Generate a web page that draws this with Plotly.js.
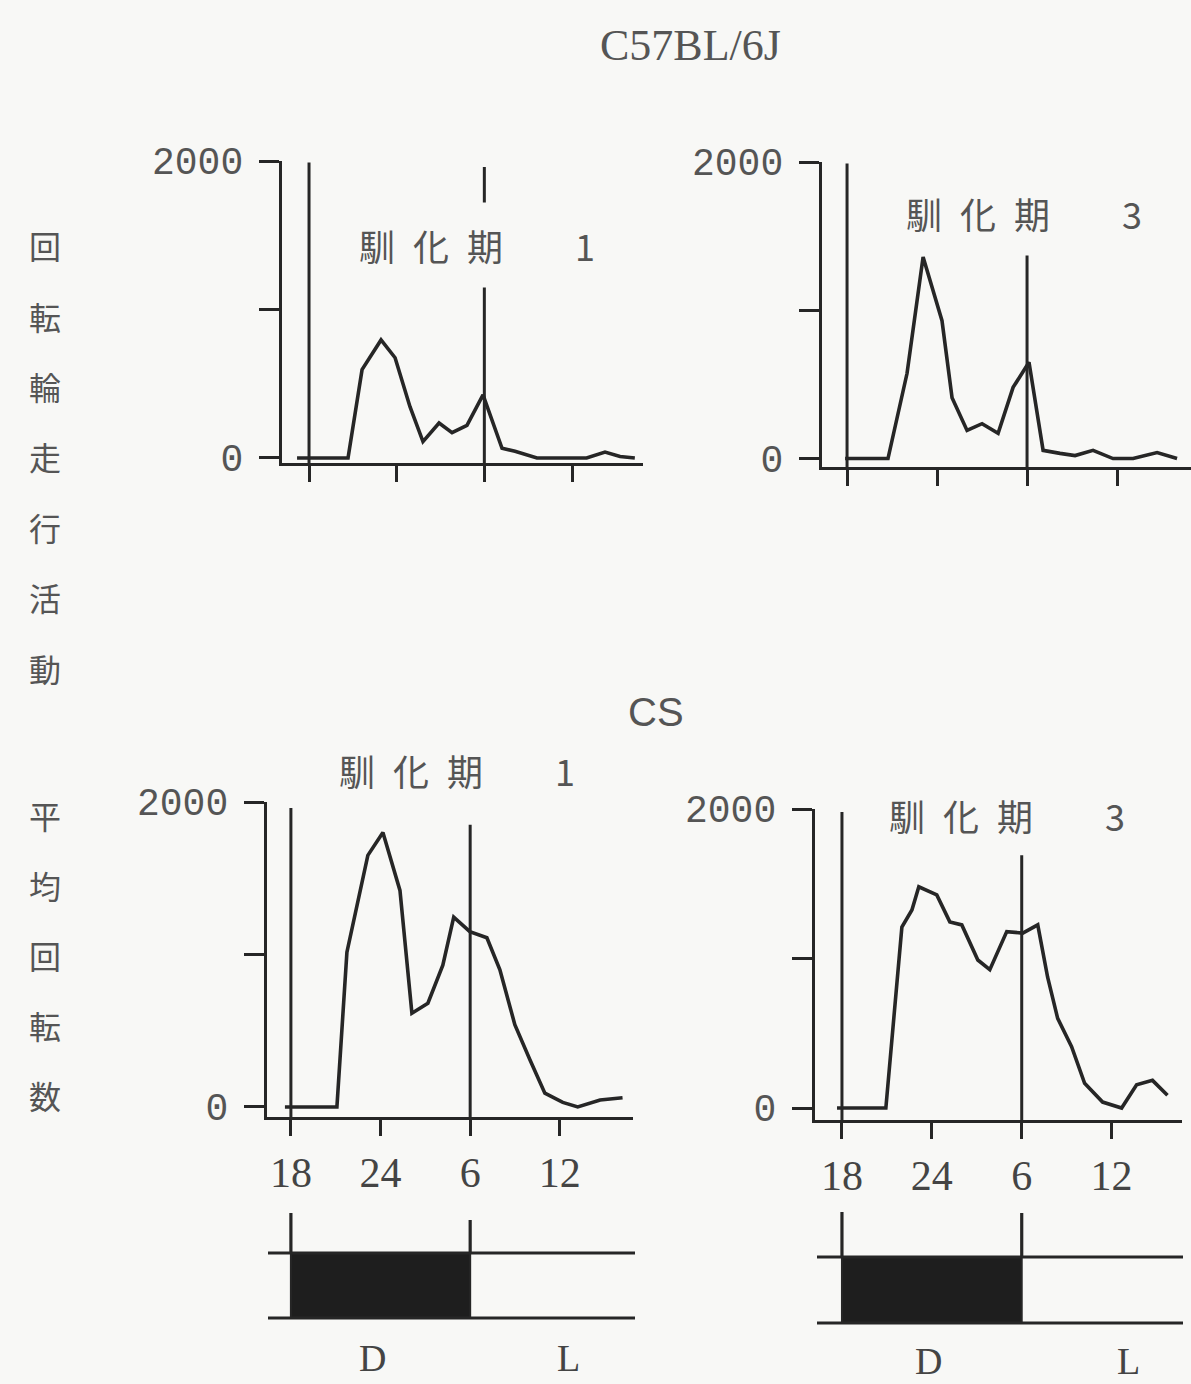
<!DOCTYPE html>
<html><head><meta charset="utf-8">
<script src="https://cdn.plot.ly/plotly-3.0.1.min.js"></script>
<style>html,body{margin:0;padding:0;background:#f8f8f6}</style>
</head><body><div id="chart" style="width:1191px;height:1384px"></div>
<script>
// ---- data (x = hours after 18:00) ----
const tickHours = [0, 6, 12, 18];
const tickLabels = ['18', '24', '6', '12'];
const yTicks = [0, 1000, 2000];
const yTickLabels = ['0', '', '2000'];

const c57Day1Hours  = [-0.82, 2.67, 3.63, 4.93, 5.89, 6.91, 7.8, 8.9, 9.79, 10.81, 11.91, 13.21, 14.1, 15.6, 19.0, 20.26, 21.29, 22.3];
const c57Day1Counts = [0, 0, 595, 795, 675, 345, 110, 235, 170, 220, 425, 65, 45, 0, 0, 40, 10, 0];

const c57Day3Hours  = [-0.13, 2.73, 4.0, 5.07, 6.33, 7.0, 8.0, 9.0, 10.07, 11.07, 12.13, 13.07, 14.2, 15.2, 16.4, 17.73, 19.07, 20.67, 22.0];
const c57Day3Counts = [0, 0, 575, 1360, 930, 410, 190, 235, 170, 480, 650, 55, 35, 20, 55, 0, 0, 40, 0];

const csDay1Hours  = [-0.4, 3.08, 3.75, 4.48, 5.15, 6.16, 7.3, 8.1, 9.17, 10.17, 10.9, 11.98, 13.12, 13.99, 14.99, 16.0, 17.0, 18.2, 19.2, 20.7, 22.2];
const csDay1Counts = [0, 0, 1015, 1340, 1650, 1800, 1420, 615, 680, 930, 1245, 1150, 1110, 900, 540, 310, 90, 30, 0, 45, 60];

const csDay3Hours  = [-0.33, 2.93, 4.0, 4.67, 5.13, 6.33, 7.2, 8.0, 9.07, 9.87, 11.0, 12.07, 13.07, 13.73, 14.4, 15.33, 16.2, 17.4, 18.67, 19.67, 20.73, 21.73];
const csDay3Counts = [0, 0, 1210, 1325, 1480, 1425, 1245, 1225, 990, 925, 1180, 1170, 1225, 875, 600, 410, 165, 40, 0, 155, 185, 85];

const darkStart = 0, darkEnd = 12;
const strainTitles = ['C57BL/6J', 'CS'];
const periodWord = '馴\u2002化\u2002期';
const periodNumbers = ['1', '3', '1', '3'];
const yLabelPart1 = '回転輪走行活動';
const yLabelPart2 = '平均回転数';
const dLabel = 'D', lLabel = 'L';

// ---- layout helpers ----
const W = 1191, H = 1384;
const px = v => v / W;
const py = v => 1 - v / H;
const BG = '#f8f8f6';
const INK = '#262626';
const TXT = '#555555';
const CJK = '"Noto Sans CJK JP", "Noto Sans CJK SC", sans-serif';
const SERIF = '"Liberation Serif", "DejaVu Serif", serif';
const MONO = '"Liberation Mono", "DejaVu Sans Mono", monospace';

const panels = [
  {h: c57Day1Hours, v: c57Day1Counts, xd: [282, 643], yd: [161, 463], xr: [-1.85, 22.86], yr: [-34, 2000], lab: false, top18: 1990, top6: 1960},
  {h: c57Day3Hours, v: c57Day3Counts, xd: [822, 1191], yd: [162, 467], xr: [-1.67, 22.93], yr: [-57, 2000], lab: false, top18: 1990, top6: 1940},
  {h: csDay1Hours, v: csDay1Counts, xd: [267, 633], yd: [802, 1117], xr: [-1.6, 22.9], yr: [-66, 2000], lab: true, top18: 1960, top6: 1850},
  {h: csDay3Hours, v: csDay3Counts, xd: [815, 1182], yd: [809, 1120], xr: [-1.8, 22.7], yr: [-80, 2000], lab: true, top18: 1980, top6: 1690}
];

const traces = [];
const layout = {
  width: W, height: H,
  margin: {l: 0, r: 0, t: 0, b: 0},
  paper_bgcolor: BG, plot_bgcolor: 'rgba(0,0,0,0)',
  showlegend: false,
  shapes: [], annotations: []
};

panels.forEach((p, i) => {
  const n = i + 1;
  const xk = n === 1 ? 'x' : 'x' + n, yk = n === 1 ? 'y' : 'y' + n;
  const xa = n === 1 ? 'xaxis' : 'xaxis' + n, ya = n === 1 ? 'yaxis' : 'yaxis' + n;
  traces.push({
    type: 'scatter', mode: 'lines', x: p.h, y: p.v, xaxis: xk, yaxis: yk,
    line: {color: INK, width: 3.6}, hoverinfo: 'skip'
  });
  layout[xa] = {
    domain: [px(p.xd[0]), px(p.xd[1])], range: p.xr, anchor: yk,
    showline: true, linewidth: 3.2, linecolor: INK, mirror: false,
    ticks: 'outside', ticklen: 16, tickwidth: 3, tickcolor: INK,
    tickmode: 'array', tickvals: tickHours, ticktext: tickLabels,
    showticklabels: p.lab, ticklabelstandoff: 0,
    tickfont: {family: SERIF, size: 42, color: '#444'},
    showgrid: false, zeroline: false, fixedrange: true
  };
  layout[ya] = {
    domain: [py(p.yd[1]), py(p.yd[0])], range: p.yr, anchor: xk,
    showline: true, linewidth: 3.2, linecolor: INK,
    ticks: 'outside', ticklen: 20, tickwidth: 3, tickcolor: INK,
    tickmode: 'array', tickvals: yTicks, ticktext: yTickLabels,
    ticklabelstandoff: 8,
    tickfont: {family: MONO, size: 38, color: TXT},
    showgrid: false, zeroline: false, fixedrange: true
  };
  // dark onset (18h) and dark offset (6h) markers
  layout.shapes.push({type: 'line', xref: xk, yref: yk, x0: darkStart, x1: darkStart, y0: p.yr[0], y1: p.top18, line: {color: INK, width: 3}});
  layout.shapes.push({type: 'line', xref: xk, yref: yk, x0: darkEnd, x1: darkEnd, y0: p.yr[0], y1: p.top6, line: {color: INK, width: 3}});
});

// period titles
const titlePos = [[477, 245, true], [1024, 213, true], [457, 770, false], [1007, 815, false]];
titlePos.forEach((t, i) => {
  layout.annotations.push({
    xref: 'paper', yref: 'paper', x: px(t[0]), y: py(t[1]), xanchor: 'center', yanchor: 'middle',
    text: periodWord + '\u3000\u2003' + periodNumbers[i], showarrow: false,
    font: {family: CJK, size: 36, color: TXT},
    bgcolor: t[2] ? BG : 'rgba(0,0,0,0)', borderpad: t[2] ? 16 : 0
  });
});

// strain titles
layout.annotations.push({xref: 'paper', yref: 'paper', x: px(690), y: py(45), xanchor: 'center', yanchor: 'middle',
  text: strainTitles[0], showarrow: false, font: {family: SERIF, size: 44, color: TXT}});
layout.annotations.push({xref: 'paper', yref: 'paper', x: px(656), y: py(712), xanchor: 'center', yanchor: 'middle',
  text: strainTitles[1], showarrow: false, font: {family: '"Liberation Sans", sans-serif', size: 40, color: TXT}});

// vertical y label, one character per line
[...yLabelPart1].forEach((c, k) => layout.annotations.push({xref: 'paper', yref: 'paper', x: px(45), y: py(245 + k * 70.5),
  xanchor: 'center', yanchor: 'middle', text: c, showarrow: false, font: {family: CJK, size: 32, color: TXT}}));
[...yLabelPart2].forEach((c, k) => layout.annotations.push({xref: 'paper', yref: 'paper', x: px(45), y: py(815 + k * 70),
  xanchor: 'center', yanchor: 'middle', text: c, showarrow: false, font: {family: CJK, size: 32, color: TXT}}));

// light/dark bars under the bottom panels
const ldBars = [
  {xk: 'x3', top: 1253, bot: 1318, t18: 1213, t6: 1220, left: 268, right: 635, dx: 372, lx: 568, ly: 1358},
  {xk: 'x4', top: 1257, bot: 1323, t18: 1212, t6: 1213, left: 817, right: 1183, dx: 928, lx: 1128, ly: 1361}
];
ldBars.forEach(b => {
  layout.shapes.push({type: 'rect', xref: b.xk, yref: 'paper', x0: darkStart, x1: darkEnd, y0: py(b.bot), y1: py(b.top),
    fillcolor: '#1e1e1e', line: {color: INK, width: 2}});
  layout.shapes.push({type: 'line', xref: 'paper', yref: 'paper', x0: px(b.left), x1: px(b.right), y0: py(b.top), y1: py(b.top), line: {color: INK, width: 3.2}});
  layout.shapes.push({type: 'line', xref: 'paper', yref: 'paper', x0: px(b.left), x1: px(b.right), y0: py(b.bot), y1: py(b.bot), line: {color: INK, width: 3.2}});
  layout.shapes.push({type: 'line', xref: b.xk, yref: 'paper', x0: darkStart, x1: darkStart, y0: py(b.top), y1: py(b.t18), line: {color: INK, width: 3.2}});
  layout.shapes.push({type: 'line', xref: b.xk, yref: 'paper', x0: darkEnd, x1: darkEnd, y0: py(b.top), y1: py(b.t6), line: {color: INK, width: 3.2}});
  layout.annotations.push({xref: 'paper', yref: 'paper', x: px(b.dx), y: py(b.ly), xanchor: 'center', yanchor: 'middle',
    text: dLabel, showarrow: false, font: {family: SERIF, size: 38, color: '#444'}});
  layout.annotations.push({xref: 'paper', yref: 'paper', x: px(b.lx), y: py(b.ly), xanchor: 'center', yanchor: 'middle',
    text: lLabel, showarrow: false, font: {family: SERIF, size: 38, color: '#444'}});
});

Plotly.newPlot('chart', traces, layout, {staticPlot: true, displayModeBar: false});
</script>
</body></html>
